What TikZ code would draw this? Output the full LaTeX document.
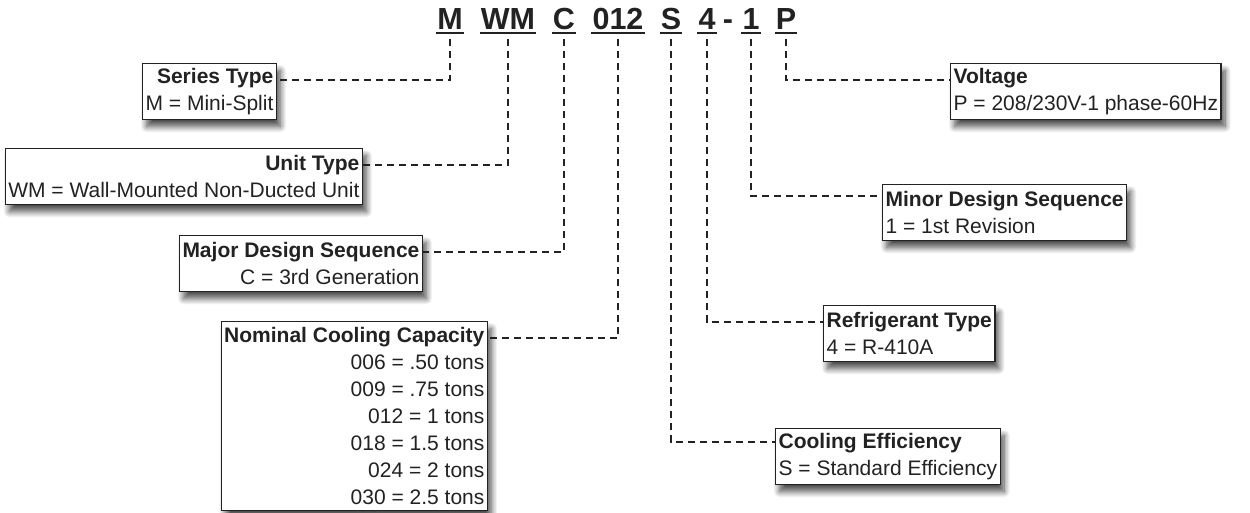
\documentclass[tikz,border=0pt]{standalone}
\usepackage{fontspec}
\setmainfont{Liberation Sans}
\usetikzlibrary{shadows.blur,calc}
\definecolor{ink}{HTML}{222222}
\tikzset{
  code/.style={font=\fontsize{30.5}{30}\selectfont\bfseries, text=ink, inner xsep=1pt, inner ysep=4pt, text depth=0pt, anchor=base},
  ul/.style={draw=ink, line width=2pt},
  lead/.style={draw=ink, line width=2pt, dash pattern=on 7pt off 5pt},
  lbox/.style={draw=ink, line width=1.2pt, fill=white, text=ink, inner xsep=3pt, inner ysep=2pt,
    font=\fontsize{21}{27}\selectfont, minimum height=56pt,
    blur shadow={shadow xshift=4pt, shadow yshift=-7pt, shadow blur radius=6pt, shadow blur steps=12, shadow opacity=70}}
}
\begin{document}
\begin{tikzpicture}[x=1pt,y=-1pt]
\useasboundingbox (0,0) rectangle (1250,512);
% code letters
\node[code] (cM) at (450,29) {M};
\node[code] (cWM) at (508,29) {WM};
\node[code] (cC) at (564,29) {C};
\node[code] (c012) at (618,29) {012};
\node[code] (cS) at (671,29) {S};
\node[code] (c4) at (707,29) {4};
\node[code] (cdash) at (728,29) {-};
\node[code] (c1) at (751,29) {1};
\node[code] (cP) at (786,29) {P};
\foreach \n in {cM,cWM,cC,c012,cS,c4,c1,cP}
  \draw[ul] (\n.south west) -- (\n.south east);
% boxes left
\node[lbox, anchor=north east, align=right] (bS) at (277,63) {\textbf{Series Type}\\M = Mini-Split};
\node[lbox, anchor=north east, align=right] (bU) at (363,148) {\textbf{Unit Type}\\WM = Wall-Mounted Non-Ducted Unit};
\node[lbox, anchor=north east, align=right] (bC) at (423,235) {\textbf{Major Design Sequence}\\C = 3rd Generation};
\node[lbox, anchor=north east, align=right, minimum height=189pt] (bN) at (488,321) {\textbf{Nominal Cooling Capacity}\\006 = .50 tons\\009 = .75 tons\\012 = 1 tons\\018 = 1.5 tons\\024 = 2 tons\\030 = 2.5 tons};
% boxes right
\node[lbox, anchor=north west, align=left] (bP) at (950,63) {\textbf{Voltage}\\P = 208/230V-1 phase-60Hz};
\node[lbox, anchor=north west, align=left] (b1) at (882,184) {\textbf{Minor Design Sequence}\\1 = 1st Revision};
\node[lbox, anchor=north west, align=left] (b4) at (823,305) {\textbf{Refrigerant Type}\\4 = R-410A};
\node[lbox, anchor=north west, align=left] (bSE) at (775,428) {\textbf{Cooling Efficiency}\\S = Standard Efficiency};
% attach points
\coordinate (aS) at ([yshift=-17pt]bS.north east);
\coordinate (aU) at ([yshift=-17pt]bU.north east);
\coordinate (aC) at ([yshift=-17pt]bC.north east);
\coordinate (aN) at ([yshift=-17pt]bN.north east);
\coordinate (aP) at ([yshift=-17pt]bP.north west);
\coordinate (a1) at ([yshift=-12pt]b1.north west);
\coordinate (a4) at ([yshift=-17pt]b4.north west);
\coordinate (aSE) at ([yshift=-14pt]bSE.north west);
% leaders
\draw[lead] ([yshift=-6pt]cM.south) |- (aS);
\draw[lead] ([yshift=-6pt]cWM.south) |- (aU);
\draw[lead] ([yshift=-6pt]cC.south) |- (aC);
\draw[lead] ([yshift=-6pt]c012.south) |- (aN);
\draw[lead] ([yshift=-6pt]cP.south) |- (aP);
\draw[lead] ([yshift=-6pt]c1.south) |- (a1);
\draw[lead] ([yshift=-6pt]c4.south) |- (a4);
\draw[lead] ([yshift=-6pt]cS.south) |- (aSE);
\end{tikzpicture}
\end{document}
